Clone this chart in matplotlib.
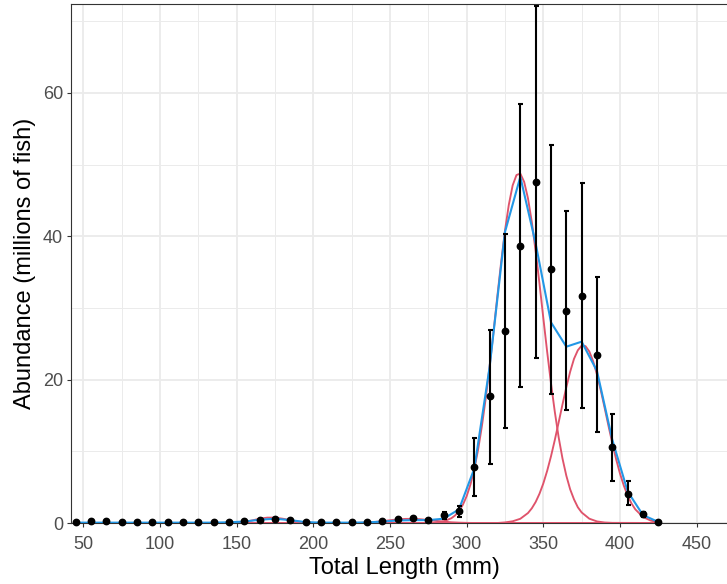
import matplotlib
matplotlib.use("Agg")
import matplotlib.pyplot as plt

plt.rcParams['font.family'] = ['Liberation Sans', 'DejaVu Sans']

# length bins (mm) and observed abundance with error limits (millions of fish)
lengths = [45, 55, 65, 75, 85, 95, 105, 115, 125, 135, 145, 155, 165, 175, 185,
           195, 205, 215, 225, 235, 245, 255, 265, 275, 285, 295, 305, 315, 325,
           335, 345, 355, 365, 375, 385, 395, 405, 415, 425]
abundance = [0.1, 0.3, 0.3, 0.1, 0.1, 0.1, 0.1, 0.15, 0.1, 0.15, 0.15, 0.25, 0.45,
             0.6, 0.45, 0.12, 0.1, 0.1, 0.1, 0.15, 0.3, 0.55, 0.7, 0.45, 1.07, 1.67,
             7.8, 17.7, 26.8, 38.7, 47.6, 35.4, 29.6, 31.7, 23.5, 10.6, 4.1, 1.2, 0.1]
lower = [0.05, 0.2, 0.2, 0.05, 0.05, 0.05, 0.05, 0.1, 0.05, 0.1, 0.1, 0.15, 0.3,
         0.45, 0.3, 0.05, 0.05, 0.05, 0.05, 0.1, 0.2, 0.4, 0.5, 0.3, 0.6, 0.88,
         3.7, 8.3, 13.3, 19.0, 23.0, 18.0, 15.7, 16.1, 12.7, 5.9, 2.5, 0.8, 0.05]
upper = [0.15, 0.4, 0.4, 0.15, 0.15, 0.15, 0.15, 0.2, 0.15, 0.2, 0.2, 0.35, 0.6,
         0.75, 0.6, 0.2, 0.15, 0.15, 0.15, 0.2, 0.4, 0.75, 0.9, 0.6, 1.53, 2.37,
         11.9, 26.9, 40.3, 58.5, 72.2, 52.7, 43.5, 47.4, 34.3, 15.2, 5.8, 1.6, 0.15]

# fitted total (sum of components) at each bin
fit_total = [0.05, 0.05, 0.05, 0.05, 0.05, 0.05, 0.05, 0.05, 0.05, 0.05, 0.1, 0.2,
             0.45, 0.6, 0.4, 0.12, 0.05, 0.05, 0.05, 0.08, 0.2, 0.35, 0.4, 0.4, 0.6,
             1.9, 7.6, 21.8, 40.6, 48.3, 39.0, 28.0, 24.6, 25.3, 21.2, 11.6, 4.4,
             1.1, 0.15]

# fitted mixture components (smooth curves)
comp_a_x = [45, 140, 150, 155, 160, 165, 170, 175, 180, 185, 190, 195, 200, 210, 425]
comp_a_y = [0, 0, 0.05, 0.15, 0.35, 0.6, 0.75, 0.75, 0.6, 0.4, 0.2, 0.08, 0.02, 0, 0]

comp_b_x = [45, 225, 230, 235, 240, 245, 250, 255, 260, 265, 270, 275, 280, 285,
            290, 295, 300, 305, 425]
comp_b_y = [0, 0, 0.02, 0.06, 0.14, 0.25, 0.38, 0.5, 0.57, 0.58, 0.52, 0.42, 0.3,
            0.19, 0.1, 0.05, 0.02, 0, 0]

comp_c_x = [45, 275, 280, 285, 290, 292.5, 295, 297.5, 300, 302.5, 305, 307.5, 310,
            312.5, 315, 317.5, 320, 322.5, 325, 327.5, 330, 332.5, 335, 337.5, 340,
            342.5, 345, 347.5, 350, 352.5, 355, 357.5, 360, 362.5, 365, 367.5, 370,
            372.5, 375, 380, 385, 390, 395, 425]
comp_c_y = [0, 0, 0.07, 0.23, 0.66, 1.06, 1.66, 2.53, 3.74, 5.38, 7.53, 10.25, 13.6,
            17.47, 21.9, 26.6, 31.6, 36.4, 40.8, 44.4, 47.1, 48.55, 48.75, 47.6, 45.3,
            42.0, 37.9, 33.4, 28.6, 23.9, 19.5, 15.5, 11.95, 9.0, 6.6, 4.7, 3.3,
            2.2, 1.47, 0.6, 0.22, 0.07, 0.02, 0]

comp_d_x = [45, 320, 325, 330, 335, 340, 342.5, 345, 347.5, 350, 352.5, 355, 357.5,
            360, 362.5, 365, 367.5, 370, 372.5, 375, 377.5, 380, 382.5, 385, 387.5,
            390, 392.5, 395, 397.5, 400, 402.5, 405, 407.5, 410, 415, 420, 425]
comp_d_y = [0, 0, 0.08, 0.24, 0.59, 1.39, 2.05, 2.93, 4.08, 5.52, 7.27, 9.3, 11.59,
            14.04, 16.54, 18.95, 21.1, 22.9, 24.1, 24.75, 24.68, 23.93, 22.57, 20.7,
            18.48, 16.04, 13.54, 11.12, 8.88, 6.89, 5.21, 3.83, 2.73, 1.9, 0.84,
            0.34, 0.12]

W, H = 727, 584
fig = plt.figure(figsize=(W / 100, H / 100), dpi=100)
ax = fig.add_axes([71 / W, (H - 523) / H, (737 - 71) / W, (523 - 4.3) / H])

red = '#DF536B'
blue = '#2297E6'

for cx, cy in [(comp_a_x, comp_a_y), (comp_b_x, comp_b_y),
               (comp_c_x, comp_c_y), (comp_d_x, comp_d_y)]:
    ax.plot(cx, cy, color=red, lw=1.35, zorder=3)
ax.plot(lengths, fit_total, color=blue, lw=1.5, zorder=4)

yerr = [[a - lo for a, lo in zip(abundance, lower)],
        [hi - a for a, hi in zip(abundance, upper)]]
ax.errorbar(lengths, abundance, yerr=yerr, fmt='none', ecolor='black',
            elinewidth=1.5, capsize=1.8, capthick=1.5, zorder=5)
ax.plot(lengths, abundance, 'o', color='black', ms=4.6, zorder=6, clip_on=False)

ax.set_xlim(42, 476.3)
ax.set_ylim(0, 72.37)
ax.set_xticks(range(50, 451, 50))
ax.set_xticks(range(75, 476, 50), minor=True)
ax.set_yticks([0, 20, 40, 60])
ax.set_yticks([10, 30, 50, 70], minor=True)

ax.grid(True, which='major', color='#EBEBEB', lw=1.3, zorder=0)
ax.grid(True, which='minor', color='#EBEBEB', lw=0.7, zorder=0)
ax.set_axisbelow(True)

for s in ax.spines.values():
    s.set_color('#333333')
    s.set_linewidth(0.8)

ax.tick_params(which='major', length=3.2, width=0.8, color='#333333',
               labelsize=13, labelcolor='#4D4D4D')
ax.tick_params(axis='x', which='major', pad=6)
ax.tick_params(axis='y', which='major', pad=2.5)
ax.tick_params(which='minor', length=0)

ax.set_xlabel('Total Length (mm)', fontsize=17, labelpad=3)
ax.set_ylabel('Abundance (millions of fish)', fontsize=17, labelpad=5)

fig.savefig('out.png', dpi=100)
